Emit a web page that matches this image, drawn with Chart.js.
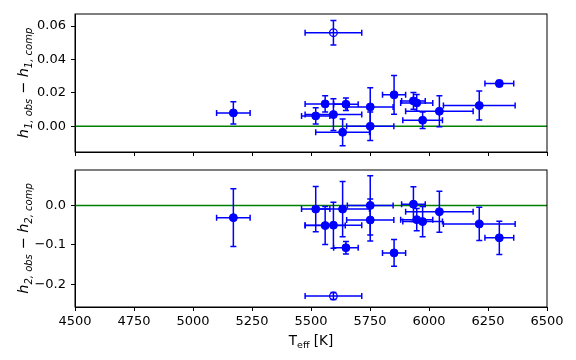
<!DOCTYPE html>
<html>
<head>
<meta charset="utf-8">
<script src="https://cdn.jsdelivr.net/npm/chart.js@4"></script>
<style>
  html, body { margin: 0; padding: 0; background: #fff; }
  #wrap { position: relative; width: 576px; height: 360px; }
  canvas { position: absolute; left: 0; }
  #topChart { top: 0; }
  #bottomChart { top: 160px; }
</style>
</head>
<body>
<div id="wrap">
  <canvas id="topChart" width="576" height="160"></canvas>
  <canvas id="bottomChart" width="576" height="200"></canvas>
</div>
<script>
// stars with normal fits
const teff    = [5171, 5520, 5560, 5595, 5634, 5648, 5751, 5751, 5852, 5934, 5948, 5973, 6044, 6213, 6298];
const teffErr = [71, 60, 85, 120, 114, 52, 97, 100, 49, 50, 68, 84, 143, 152, 61];
const dh1     = [0.008, 0.0062, 0.0134, 0.007, -0.0036, 0.0132, 0.0116, 0.0, 0.0188, 0.0152, 0.014, 0.0036, 0.009, 0.0124, 0.0256];
const dh1Err  = [0.0067, 0.0049, 0.0048, 0.0095, 0.008, 0.0037, 0.0115, 0.0085, 0.0116, 0.005, 0.005, 0.005, 0.0093, 0.0087, 0.0018];
const dh2     = [-0.031, -0.0094, -0.051, -0.05, -0.0094, -0.107, 0.0, -0.037, -0.12, 0.003, -0.036, -0.041, -0.016, -0.047, -0.082];
const dh2Err  = [0.073, 0.057, 0.048, 0.058, 0.07, 0.016, 0.075, 0.053, 0.034, 0.044, 0.028, 0.038, 0.052, 0.042, 0.042];

// the outlier (open symbol)
const outTeff = [5595];
const outTeffErr = [120];
const outDh1 = [0.056];
const outDh1Err = [0.0073];
const outDh2 = [-0.229];
const outDh2Err = [0.009];

const xTicks = [4500, 4750, 5000, 5250, 5500, 5750, 6000, 6250, 6500];
const topTicks = [0, 0.02, 0.04, 0.06];
const bottomTicks = [-0.2, -0.1, 0];
const zeroLine = [4500, 6500];

const BLUE = '#0000ff';
const FONT = 'DejaVu Sans';

function pts(xs, ys) {
    return xs.map((x, i) => ({ x: x, y: ys[i] }));
}

const errorBars = {
    id: 'errorBars',
    beforeDatasetDraw(chart, args) {
        const ds = chart.data.datasets[args.index];
        if (!ds.xErr) return;
        const sx = chart.scales.x, sy = chart.scales.y, ctx = chart.ctx;
        const cap = 3;
        ctx.save();
        ctx.strokeStyle = BLUE;
        ctx.lineWidth = 1.5;
        ds.data.forEach((p, i) => {
            const px = sx.getPixelForValue(p.x), py = sy.getPixelForValue(p.y);
            const x0 = sx.getPixelForValue(p.x - ds.xErr[i]), x1 = sx.getPixelForValue(p.x + ds.xErr[i]);
            const y0 = sy.getPixelForValue(p.y - ds.yErr[i]), y1 = sy.getPixelForValue(p.y + ds.yErr[i]);
            ctx.beginPath();
            ctx.moveTo(x0, py); ctx.lineTo(x1, py);
            ctx.moveTo(px, y0); ctx.lineTo(px, y1);
            ctx.moveTo(x0, py - cap); ctx.lineTo(x0, py + cap);
            ctx.moveTo(x1, py - cap); ctx.lineTo(x1, py + cap);
            ctx.moveTo(px - cap, y0); ctx.lineTo(px + cap, y0);
            ctx.moveTo(px - cap, y1); ctx.lineTo(px + cap, y1);
            ctx.stroke();
        });
        ctx.restore();
    }
};

function drawRich(ctx, parts, cx, cy, angle) {
    ctx.save();
    ctx.translate(cx, cy);
    ctx.rotate(angle);
    let total = 0;
    parts.forEach(p => { ctx.font = p.font; p.w = ctx.measureText(p.text).width; total += p.w; });
    let x = -total / 2;
    ctx.textBaseline = 'alphabetic';
    ctx.fillStyle = '#000';
    parts.forEach(p => { ctx.font = p.font; ctx.fillText(p.text, x, 5 + (p.dy || 0)); x += p.w; });
    ctx.restore();
}

const frameAndLabels = {
    id: 'frameAndLabels',
    afterDraw(chart, args, opts) {
        const ctx = chart.ctx, a = chart.chartArea;
        ctx.save();
        ctx.strokeStyle = '#000';
        ctx.lineWidth = 1;
        ctx.strokeRect(a.left, a.top, a.right - a.left, a.bottom - a.top);
        ctx.restore();
        if (opts.yLabel) drawRich(ctx, opts.yLabel, opts.yLabelX, (a.top + a.bottom) / 2, -Math.PI / 2);
        if (opts.xLabel) drawRich(ctx, opts.xLabel, (a.left + a.right) / 2, opts.xLabelY, 0);
    }
};

function hLabel(n) {
    const big = 'italic 14.5px ' + FONT, sub = 'italic 10px ' + FONT;
    return [
        { text: 'h', font: big },
        { text: n + ', obs', font: sub, dy: 3.5 },
        { text: ' \u2212 ', font: '14.5px ' + FONT },
        { text: 'h', font: big },
        { text: n + ', comp', font: sub, dy: 3.5 }
    ];
}

function noPad(s) {
    s.paddingTop = 0; s.paddingBottom = 0; s.paddingLeft = 0; s.paddingRight = 0;
}

function makeChart(id, ys, yErr, outYs, outYErr, yMin, yMax, yTicks, decimals, padTop, xHeight, showX, extra) {
    return new Chart(document.getElementById(id), {
        type: 'scatter',
        data: {
            datasets: [{
                data: pts(teff, ys),
                xErr: teffErr,
                yErr: yErr,
                pointRadius: 4,
                pointBorderWidth: 1,
                pointBackgroundColor: BLUE,
                pointBorderColor: BLUE,
                order: 0
            }, {
                data: pts(outTeff, outYs),
                xErr: outTeffErr,
                yErr: outYErr,
                pointRadius: 3.8,
                pointBorderWidth: 1.3,
                pointBackgroundColor: 'rgba(0,0,0,0)',
                pointBorderColor: BLUE,
                order: 1
            }, {
                type: 'line',
                data: pts(zeroLine, [0, 0]),
                borderColor: '#008000',
                borderWidth: 1.5,
                pointRadius: 0,
                order: 2
            }]
        },
        options: {
            responsive: false,
            animation: false,
            events: [],
            layout: { padding: { top: padTop, right: 29, left: 0, bottom: 0 } },
            plugins: {
                legend: { display: false },
                tooltip: { enabled: false },
                frameAndLabels: extra
            },
            scales: {
                x: {
                    type: 'linear',
                    min: 4500,
                    max: 6500,
                    afterBuildTicks: s => { s.ticks = xTicks.map(v => ({ value: v })); },
                    afterFit: s => { s.height = xHeight; noPad(s); },
                    grid: { drawOnChartArea: false, drawTicks: true, tickLength: 4, tickColor: '#000' },
                    border: { color: '#000' },
                    ticks: {
                        display: showX,
                        color: '#000',
                        padding: 3,
                        maxRotation: 0,
                        font: { family: FONT, size: 13 },
                        callback: v => String(v)
                    }
                },
                y: {
                    min: yMin,
                    max: yMax,
                    afterBuildTicks: s => { s.ticks = yTicks.map(v => ({ value: v })); },
                    afterFit: s => { s.width = 75; noPad(s); },
                    grid: { drawOnChartArea: false, drawTicks: true, tickLength: 4, tickColor: '#000' },
                    border: { color: '#000' },
                    ticks: {
                        color: '#000',
                        padding: 5,
                        font: { family: FONT, size: 13 },
                        callback: v => v.toFixed(decimals).replace('-', '\u2212')
                    }
                }
            }
        },
        plugins: [errorBars, frameAndLabels]
    });
}

makeChart('topChart', dh1, dh1Err, outDh1, outDh1Err, -0.0154, 0.0672, topTicks, 2, 14, 8, false,
    { yLabel: hLabel(1), yLabelX: 23 });

makeChart('bottomChart', dh2, dh2Err, outDh2, outDh2Err, -0.2567, 0.0894, bottomTicks, 1, 10, 53, true,
    {
        yLabel: hLabel(2), yLabelX: 23,
        xLabel: [
            { text: 'T', font: '13.5px ' + FONT },
            { text: 'eff', font: '9.5px ' + FONT, dy: 3 },
            { text: ' [K]', font: '13.5px ' + FONT }
        ],
        xLabelY: 180
    });
</script>
</body>
</html>
